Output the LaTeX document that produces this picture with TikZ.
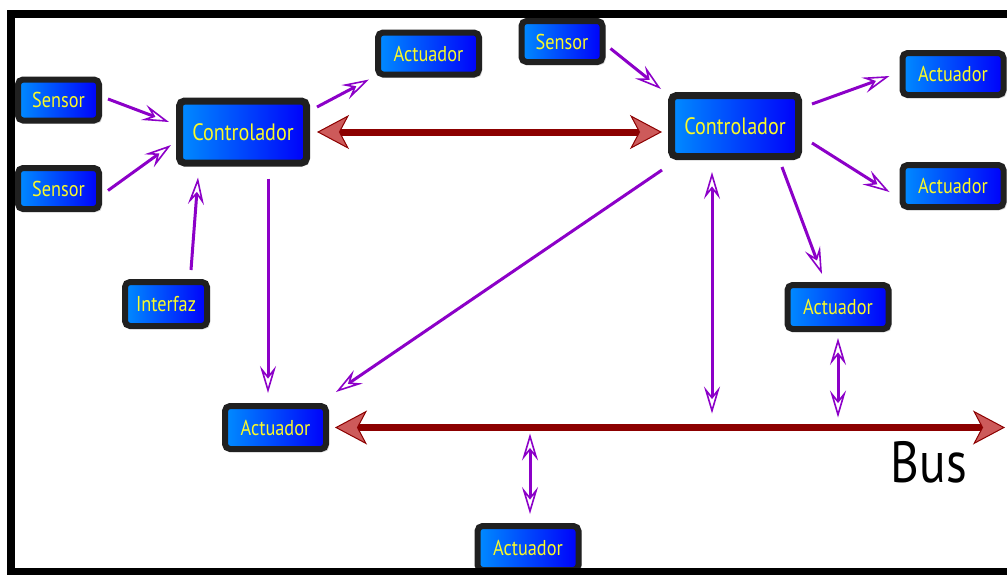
\documentclass[tikz,border=0pt]{standalone}
\usepackage{fontspec}
\newfontfamily\lblfont[FakeStretch=0.85]{PT Sans}
\usetikzlibrary{arrows.meta,shadows,calc}
\definecolor{pur}{RGB}{140,0,200}
\definecolor{dred}{RGB}{140,0,0}
\definecolor{lred}{RGB}{205,90,90}
\definecolor{boxedge}{RGB}{32,32,32}
\definecolor{blueL}{RGB}{0,140,255}
\definecolor{blueR}{RGB}{0,0,250}
\definecolor{txtyel}{RGB}{250,250,40}
\tikzset{
  box/.style={rectangle, rounded corners=5pt, draw=boxedge, line width=6pt,
    left color=blueL, right color=blueR, text=txtyel, inner sep=0pt,
    font=\lblfont\fontsize{21.5}{21.5}\selectfont,
    minimum width=81pt, minimum height=41pt,
    drop shadow={shadow xshift=3pt, shadow yshift=-3pt, opacity=0.3}},
  actbox/.style={box, minimum width=101pt, minimum height=42pt},
  ctlbox/.style={box, line width=7pt, minimum width=127pt, minimum height=62pt,
    font=\lblfont\fontsize{23.7}{23.7}\selectfont},
  pa/.style={draw=pur, line width=3pt, -{Stealth[length=27pt, width=16pt, inset=10pt, fill=white, line width=1.6pt]}},
  pd/.style={draw=pur, line width=3pt, {Stealth[length=27pt, width=16pt, inset=10pt, fill=white, line width=1.6pt]}-{Stealth[length=27pt, width=16pt, inset=10pt, fill=white, line width=1.6pt]}},
  rd/.style={draw=dred, line width=7pt, {Stealth[length=32pt, width=34pt, inset=9pt, fill=lred, line width=1pt]}-{Stealth[length=32pt, width=34pt, inset=9pt, fill=lred, line width=1pt]}},
}
\begin{document}
\begin{tikzpicture}[x=1pt, y=-1pt]
\useasboundingbox (0,0) rectangle (1007,574);
\clip (0,0) rectangle (1007,574);
\fill[white] (0,0) rectangle (1007,574);

% nodes
\node[box] (s1) at (58.5,100) {Sensor};
\node[box] (s2) at (58.5,188.5) {Sensor};
\node[box, minimum height=44pt, minimum width=82pt] (inf) at (166,304) {Interfaz};
\node[ctlbox] (cl) at (243,132) {Controlador};
\node[actbox] (a1) at (428.5,53.5) {Actuador};
\node[box] (st) at (562,41.5) {Sensor};
\node[ctlbox, minimum height=61pt] (cr) at (735,126) {Controlador};
\node[actbox] (a2) at (953,74) {Actuador};
\node[actbox] (a3) at (953,186) {Actuador};
\node[actbox, minimum height=44pt] (a4) at (838,307) {Actuador};
\node[actbox, minimum height=43pt] (a5) at (275.5,427.5) {Actuador};
\node[actbox, minimum height=44pt] (a6) at (528,548) {Actuador};

% bus points
\coordinate (busR) at (1005,427.5);
\coordinate (b1) at (712,427.5);
\coordinate (b2) at (838,427.5);
\coordinate (b3) at (530,427.5);

% bus and red link
\draw[rd] ($(a5.east)+(6,0)$) -- (busR);
\draw[rd] ($(cl.east)+(7,0)$) -- ($(cr.west)+(-6,6)$);

% purple connectors
\draw[pa] ($(s1.east)+(6,-1)$) -- ($(cl.west)+(-7,-10)$);
\draw[pa] ($(s2.east)+(6,2)$) -- ($(cl.west)+(-5,13)$);
\draw[pa] ($(inf.north)+(25,-9)$) -- ($(cl.south)+(-45,11)$);
\draw[pa] ($(cl.east)+(7,-25)$) -- ($(a1.west)+(-6,26)$);
\draw[pa] ($(cl.south)+(25,12)$) -- ($(a5.north)+(-7.5,-10)$);
\draw[pa] ($(st.east)+(5,7)$) -- ($(cr.west)+(-7,-37)$);
\draw[pa] ($(cr.east)+(10,-22)$) -- ($(a2.west)+(-10,2)$);
\draw[pa] ($(cr.east)+(10,17)$) -- ($(a3.west)+(-10,6)$);
\draw[pa] ($(cr.south)+(47,7)$) -- ($(a4.north)+(-16,-8)$);
\draw[pa] ($(cr.west)+(-6,44)$) -- ($(a5.north east)+(7,-11)$);
\draw[pd] ($(cr.south)+(-23,12)$) -- ($(b1)+(0,-14)$);
\draw[pd] ($(a4.south)+(0,6)$) -- ($(b2)+(0,-10)$);
\draw[pd] ($(b3)+(0,6)$) -- ($(a6.north)+(2,-9)$);

% bus label
\node[font=\lblfont\fontsize{58}{58}\selectfont, text=black, inner sep=0pt] (buslbl) at (929,462) {Bus};

% frame
\draw[line width=8pt, black] (10.5,13.5) rectangle (1030,572);
\end{tikzpicture}
\end{document}
